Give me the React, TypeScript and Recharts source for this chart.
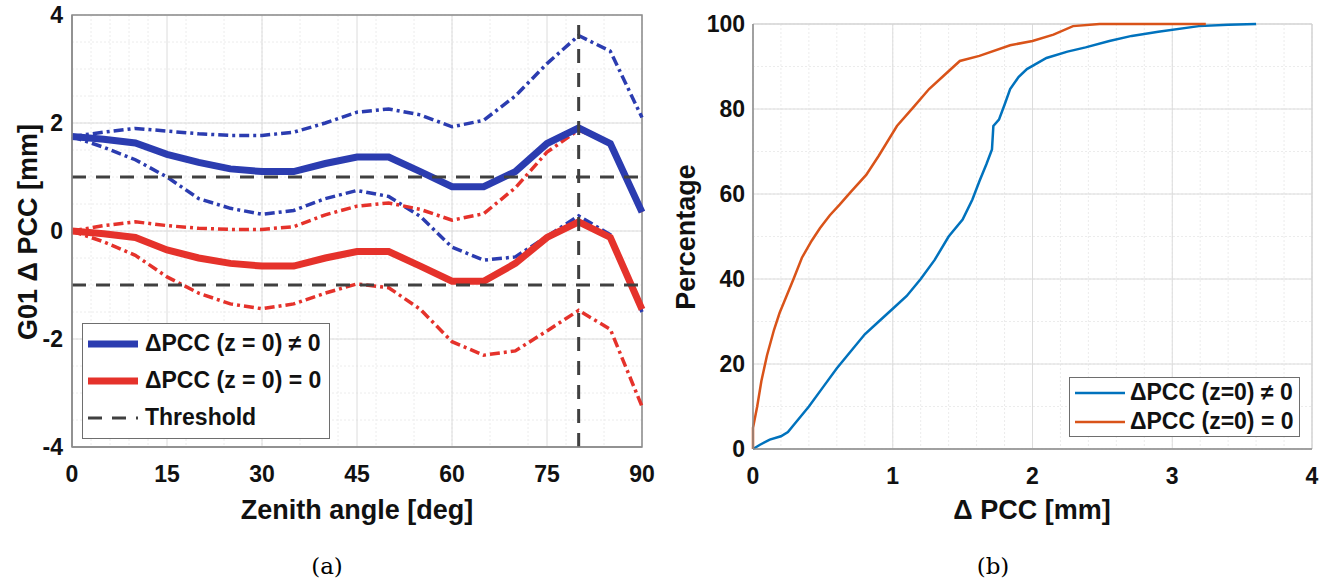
import React from "react";
import {
  LineChart,
  Line,
  XAxis,
  YAxis,
  CartesianGrid,
  ReferenceLine,
  ReferenceArea,
} from "recharts";

// (a) zenith dependent PCC difference, G01
const zenith = [0, 5, 10, 15, 20, 25, 30, 35, 40, 45, 50, 55, 60, 65, 70, 75, 80, 85, 90];
const blueMean = [1.75, 1.7, 1.63, 1.42, 1.27, 1.15, 1.1, 1.1, 1.25, 1.37, 1.37, 1.1, 0.82, 0.82, 1.1, 1.62, 1.91, 1.62, 0.35];
const blueUpper = [1.75, 1.83, 1.9, 1.85, 1.8, 1.77, 1.77, 1.83, 2.0, 2.2, 2.26, 2.15, 1.93, 2.05, 2.5, 3.1, 3.62, 3.33, 2.1];
const blueLower = [1.75, 1.55, 1.32, 1.0, 0.6, 0.42, 0.31, 0.38, 0.6, 0.75, 0.64, 0.27, -0.3, -0.54, -0.48, -0.1, 0.28, -0.07, -1.5];
const redMean = [0, -0.05, -0.12, -0.35, -0.5, -0.6, -0.65, -0.65, -0.5, -0.38, -0.38, -0.65, -0.93, -0.93, -0.6, -0.12, 0.17, -0.12, -1.45];
const redUpper = [0, 0.1, 0.17, 0.1, 0.05, 0.03, 0.03, 0.08, 0.3, 0.46, 0.52, 0.4, 0.2, 0.32, 0.8, 1.46, 1.87, 1.62, 0.35];
const redLower = [0, -0.2, -0.45, -0.85, -1.15, -1.35, -1.44, -1.35, -1.15, -0.98, -1.05, -1.45, -2.05, -2.3, -2.22, -1.85, -1.47, -1.82, -3.25];
const thresholds = [1, -1];
const markAngle = 80;
const zenithTicks = [0, 15, 30, 45, 60, 75, 90];
const pccTicks = [-4, -2, 0, 2, 4];

// (b) cumulative distribution of PCC differences
const cdfBlueX = [0, 0.05, 0.12, 0.2, 0.25, 0.3, 0.4, 0.5, 0.6, 0.7, 0.8, 0.9, 1.0, 1.1, 1.2, 1.3, 1.4, 1.5, 1.57, 1.62, 1.67, 1.71, 1.72, 1.76, 1.8, 1.84, 1.9, 1.96, 2.1, 2.25, 2.38, 2.55, 2.71, 2.9, 3.19, 3.4, 3.6];
const cdfBlueY = [0, 1, 2.2, 3, 4, 6, 10, 14.5, 19, 23, 27, 30, 33, 36, 40, 44.5, 50, 54, 58.7, 63, 67, 70.5, 76, 77.5, 81, 84.7, 87.5, 89.4, 92, 93.5, 94.5, 96, 97.2, 98.2, 99.5, 99.8, 100];
const cdfOrangeX = [0, 0, 0.03, 0.06, 0.1, 0.15, 0.19, 0.24, 0.29, 0.35, 0.42, 0.48, 0.55, 0.62, 0.7, 0.81, 0.9, 1.03, 1.15, 1.26, 1.37, 1.48, 1.62, 1.84, 2.0, 2.15, 2.29, 2.48, 3.24];
const cdfOrangeY = [0, 5, 10, 16, 22, 28, 32, 36, 40, 45, 49, 52, 55, 57.5, 60.5, 64.5, 69, 76, 80.5, 84.7, 88, 91.3, 92.5, 95, 96, 97.5, 99.5, 100, 100];
const cdfXTicks = [0, 1, 2, 3, 4];
const cdfYTicks = [0, 20, 40, 60, 80, 100];

const FONT = "'Liberation Sans', Arial, Helvetica, sans-serif";
const BLUE = "#2b3cb0";
const RED = "#e5322b";
const MBLUE = "#0072bd";
const MORANGE = "#d95319";
const GRID = "#dcdcdc";
const MINOR = "#ececec";
const AXIS = "#8c8c8c";

const steps = (from: number, to: number, step: number) => {
  const out: number[] = [];
  for (let v = from; v <= to + 1e-9; v += step) out.push(Math.round(v * 1000) / 1000);
  return out;
};

const zenithRows = zenith.map((z, i) => ({
  z,
  bm: blueMean[i],
  bu: blueUpper[i],
  bl: blueLower[i],
  rm: redMean[i],
  ru: redUpper[i],
  rl: redLower[i],
}));
const blueCdf = cdfBlueX.map((x, i) => ({ x, p: cdfBlueY[i] }));
const orangeCdf = cdfOrangeX.map((x, i) => ({ x, p: cdfOrangeY[i] }));

const tickStyle = { fontFamily: FONT, fontSize: 23, fontWeight: 700, fill: "#111" };

const title: React.CSSProperties = {
  position: "absolute",
  fontFamily: FONT,
  fontWeight: 700,
  fontSize: 27,
  color: "#111",
  whiteSpace: "nowrap",
};

const LeftLegend = () => {
  const row = (stroke: string, width: number, dash: string | undefined, label: string) => (
    <div style={{ display: "flex", alignItems: "center", height: 37 }}>
      <svg width={56} height={12} style={{ marginRight: 4 }}>
        <line x1={3} y1={6} x2={53} y2={6} stroke={stroke} strokeWidth={width} strokeDasharray={dash} />
      </svg>
      <span>{label}</span>
    </div>
  );
  return (
    <div
      style={{
        position: "absolute",
        left: 82,
        top: 323,
        border: "1.5px solid #6e6e6e",
        background: "#fff",
        width: 248,
        height: 116,
        boxSizing: "border-box",
        padding: "1px 0 0 2px",
        fontFamily: FONT,
        fontWeight: 700,
        fontSize: 23,
        color: "#111",
        whiteSpace: "nowrap",
      }}
    >
      {row(BLUE, 7, undefined, "\u0394PCC (z = 0) \u2260 0")}
      {row(RED, 7, undefined, "\u0394PCC (z = 0) = 0")}
      {row("#404040", 3, "14 10", "Threshold")}
    </div>
  );
};

const RightLegend = () => {
  const row = (stroke: string, label: string) => (
    <div style={{ display: "flex", alignItems: "center", height: 29 }}>
      <svg width={56} height={8} style={{ marginRight: 2 }}>
        <line x1={3} y1={4} x2={53} y2={4} stroke={stroke} strokeWidth={2.5} />
      </svg>
      <span>{label}</span>
    </div>
  );
  return (
    <div
      style={{
        position: "absolute",
        left: 1069,
        top: 377,
        border: "1.5px solid #6e6e6e",
        background: "#fff",
        width: 231,
        height: 60,
        boxSizing: "border-box",
        padding: "0 0 0 2px",
        fontFamily: FONT,
        fontWeight: 700,
        fontSize: 23,
        color: "#111",
        whiteSpace: "nowrap",
      }}
    >
      {row(MBLUE, "\u0394PCC (z=0) \u2260 0")}
      {row(MORANGE, "\u0394PCC (z=0) = 0")}
    </div>
  );
};

const dashDot = "10 4 3 4";

export default function App() {
  return (
    <div style={{ position: "absolute", left: 0, top: 0, width: 1333, height: 584, background: "#fff" }}>
      <div style={{ position: "absolute", left: 0, top: 0 }}>
        <LineChart width={660} height={500} data={zenithRows} margin={{ top: 15, right: 18, left: 12, bottom: 23 }}>
          <CartesianGrid stroke={MINOR} strokeDasharray="2 2" verticalValues={steps(0, 90, 3)} horizontalValues={steps(-4, 4, 0.5)} />
          <CartesianGrid stroke={GRID} verticalValues={zenithTicks} horizontalValues={pccTicks} />
          <XAxis
            dataKey="z"
            type="number"
            domain={[0, 90]}
            ticks={zenithTicks}
            tick={tickStyle}
            tickSize={0}
            tickMargin={19}
            height={30}
            stroke={AXIS}
            strokeWidth={1.5}
          />
          <YAxis
            type="number"
            domain={[-4, 4]}
            ticks={pccTicks}
            tick={tickStyle}
            tickSize={0}
            tickMargin={9}
            width={60}
            stroke={AXIS}
            strokeWidth={1.5}
          />
          <ReferenceArea x1={0} x2={90} y1={-4} y2={4} fill="none" stroke={AXIS} strokeWidth={1.5} />
          <Line dataKey="bu" stroke={BLUE} strokeWidth={3.5} strokeDasharray={dashDot} dot={false} isAnimationActive={false} />
          <Line dataKey="bl" stroke={BLUE} strokeWidth={3.5} strokeDasharray={dashDot} dot={false} isAnimationActive={false} />
          <Line dataKey="ru" stroke={RED} strokeWidth={3.5} strokeDasharray={dashDot} dot={false} isAnimationActive={false} />
          <Line dataKey="rl" stroke={RED} strokeWidth={3.5} strokeDasharray={dashDot} dot={false} isAnimationActive={false} />
          <Line dataKey="bm" stroke={BLUE} strokeWidth={7} dot={false} isAnimationActive={false} />
          <Line dataKey="rm" stroke={RED} strokeWidth={7} dot={false} isAnimationActive={false} />
          {thresholds.map((t) => (
            <ReferenceLine key={t} y={t} stroke="#404040" strokeWidth={3} strokeDasharray="14 10" />
          ))}
          <ReferenceLine x={markAngle} stroke="#404040" strokeWidth={3} strokeDasharray="14 10" />
        </LineChart>
      </div>

      <div style={{ position: "absolute", left: 680, top: 0 }}>
        <LineChart width={650} height={500} margin={{ top: 24, right: 18, left: 13, bottom: 21 }}>
          <CartesianGrid stroke={MINOR} strokeDasharray="2 2" verticalValues={steps(0, 4, 0.2)} horizontalValues={steps(0, 100, 5)} />
          <CartesianGrid stroke={GRID} verticalValues={cdfXTicks} horizontalValues={cdfYTicks} />
          <XAxis
            dataKey="x"
            type="number"
            domain={[0, 4]}
            ticks={cdfXTicks}
            tick={tickStyle}
            tickSize={0}
            tickMargin={19}
            height={30}
            stroke={AXIS}
            strokeWidth={1.5}
            allowDuplicatedCategory={false}
          />
          <YAxis
            type="number"
            domain={[0, 100]}
            ticks={cdfYTicks}
            tick={tickStyle}
            tickSize={0}
            tickMargin={8}
            width={60}
            stroke={AXIS}
            strokeWidth={1.5}
          />
          <ReferenceArea x1={0} x2={4} y1={0} y2={100} fill="none" stroke="#cfcfcf" strokeWidth={1} />
          <Line data={blueCdf} dataKey="p" stroke={MBLUE} strokeWidth={2.5} dot={false} isAnimationActive={false} />
          <Line data={orangeCdf} dataKey="p" stroke={MORANGE} strokeWidth={2.5} dot={false} isAnimationActive={false} />
        </LineChart>
      </div>

      <LeftLegend />
      <RightLegend />

      <div style={{ ...title, left: 357, top: 510, transform: "translate(-50%, -50%)" }}>Zenith angle [deg]</div>
      <div style={{ ...title, left: 28, top: 232, transform: "translate(-50%, -50%) rotate(-90deg)" }}>G01 {"\u0394"} PCC [mm]</div>
      <div style={{ ...title, left: 1032, top: 510, transform: "translate(-50%, -50%)" }}>{"\u0394"} PCC [mm]</div>
      <div style={{ ...title, left: 686, top: 237, transform: "translate(-50%, -50%) rotate(-90deg)" }}>Percentage</div>
      <div style={{ position: "absolute", left: 327, top: 566, transform: "translate(-50%, -50%)", fontFamily: "'DejaVu Serif', serif", fontSize: 23 }}>(a)</div>
      <div style={{ position: "absolute", left: 993, top: 566, transform: "translate(-50%, -50%)", fontFamily: "'DejaVu Serif', serif", fontSize: 23 }}>(b)</div>
    </div>
  );
}
